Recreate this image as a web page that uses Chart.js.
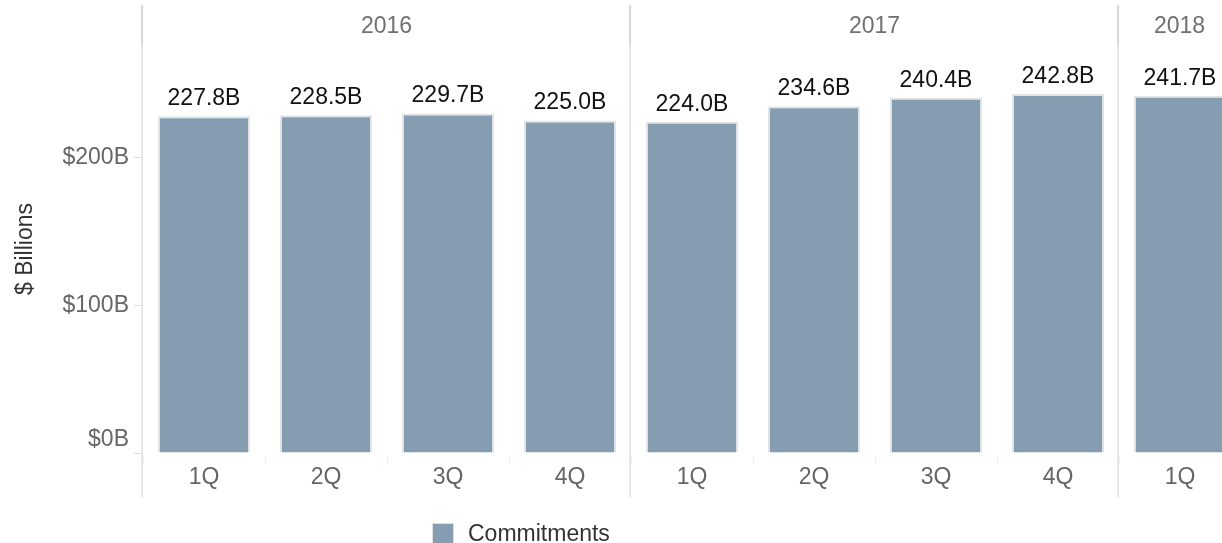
<!DOCTYPE html>
<html>
<head>
<meta charset="utf-8">
<title>Commitments</title>
<style>
  html, body { margin: 0; padding: 0; overflow: hidden; background: #fff; }
  #wrap { position: relative; width: 1222px; height: 543px; overflow: hidden; }
  #chart { position: absolute; left: 0; top: 0; }
  #legend {
    position: absolute; left: 432px; top: 520px;
    font: 23px "Liberation Sans", Arial, sans-serif; color: #333;
    display: flex; align-items: center;
  }
  #legend .sw { width: 22px; height: 22px; box-sizing: border-box; border: 1px solid #dde1e5; margin-right: 14px; }
</style>
</head>
<body>
<div id="wrap">
  <canvas id="chart" width="1245" height="543"></canvas>
  <div id="legend"></div>
</div>
<script src="https://cdn.jsdelivr.net/npm/chart.js@4.4.1/dist/chart.umd.min.js"></script>
<script>
const quarters = ['1Q', '2Q', '3Q', '4Q', '1Q', '2Q', '3Q', '4Q', '1Q'];
const years = ['2016', '2016', '2016', '2016', '2017', '2017', '2017', '2017', '2018'];
const commitments = [227.8, 228.5, 229.7, 225.0, 224.0, 234.6, 240.4, 242.8, 241.7];
const yTicks = [0, 100, 200];

const barColor = '#869cb0';
const grey = '#666666';

Chart.defaults.font.family = '"Liberation Sans", Arial, sans-serif';
Chart.defaults.font.size = 23;
Chart.defaults.color = grey;

// year headers and separators between year groups
const yearGroups = {
  id: 'yearGroups',
  afterDraw(chart) {
    const x = chart.scales.x;
    const ctx = chart.ctx;
    const area = chart.chartArea;
    const half = (x.getPixelForValue(1) - x.getPixelForValue(0)) / 2;
    let start = 0;
    ctx.save();
    for (let i = 1; i <= years.length; i++) {
      if (i === years.length || years[i] !== years[start]) {
        const left = Math.round(x.getPixelForValue(start) - half) - 1;
        const right = x.getPixelForValue(i - 1) + half;
        ctx.lineWidth = 1.5;
        ctx.strokeStyle = '#cbcbcb';
        ctx.beginPath();
        ctx.moveTo(left, 5);
        ctx.lineTo(left, area.top);
        ctx.stroke();
        ctx.strokeStyle = '#dedede';
        ctx.beginPath();
        ctx.moveTo(left, area.top);
        ctx.lineTo(left, area.bottom + 44);
        ctx.stroke();
        ctx.fillStyle = '#707070';
        ctx.font = '23px "Liberation Sans", Arial, sans-serif';
        ctx.textAlign = 'center';
        ctx.textBaseline = 'alphabetic';
        ctx.fillText(years[start], (left + right) / 2, 33);
        start = i;
      }
    }
    ctx.restore();
  }
};

// value labels above the bars
const barLabels = {
  id: 'barLabels',
  afterDatasetsDraw(chart) {
    const ctx = chart.ctx;
    const meta = chart.getDatasetMeta(0);
    ctx.save();
    ctx.fillStyle = '#111';
    ctx.font = '23px "Liberation Sans", Arial, sans-serif';
    ctx.textAlign = 'center';
    ctx.textBaseline = 'alphabetic';
    meta.data.forEach((bar, i) => {
      ctx.fillText(commitments[i].toFixed(1) + 'B', bar.x, bar.y - 11);
    });
    ctx.restore();
  }
};

const chart = new Chart(document.getElementById('chart'), {
  type: 'bar',
  data: {
    labels: quarters,
    datasets: [{
      label: 'Commitments',
      data: commitments,
      backgroundColor: barColor,
      borderColor: '#e2e5e8',
      borderWidth: 2,
      categoryPercentage: 1,
      barPercentage: 0.755
    }]
  },
  options: {
    responsive: false,
    animation: false,
    layout: { padding: { top: 45, right: 4, left: 0, bottom: 0 } },
    plugins: {
      legend: { display: false },
      tooltip: { enabled: false }
    },
    scales: {
      x: {
        offset: true,
        border: { display: false },
        grid: {
          offset: true,
          drawOnChartArea: false,
          color: '#eeeeee',
          tickLength: 11,
          tickBorderDash: [0, 4, 7, 100]
        },
        ticks: { color: grey, padding: 0 },
        afterFit(scale) { scale.height = 90; }
      },
      y: {
        min: 0,
        max: 276,
        border: { display: false },
        grid: { drawOnChartArea: false, color: '#dddddd', tickLength: 9 },
        afterBuildTicks(scale) { scale.ticks = yTicks.map(v => ({ value: v })); },
        ticks: {
          color: grey,
          padding: 5,
          // the bottom label sits above its tick, as in the original
          callback: v => v === 0 ? ['$' + v + 'B', ''] : '$' + v + 'B'
        },
        title: {
          display: true,
          text: '$ Billions',
          color: '#333',
          padding: { top: 12, bottom: 0 }
        },
        afterFit(scale) { scale.width = 143; }
      }
    }
  },
  plugins: [yearGroups, barLabels]
});

// html legend built from the dataset
const legend = document.getElementById('legend');
chart.data.datasets.forEach(ds => {
  const sw = document.createElement('span');
  sw.className = 'sw';
  sw.style.background = ds.backgroundColor;
  const txt = document.createElement('span');
  txt.textContent = ds.label;
  legend.appendChild(sw);
  legend.appendChild(txt);
});
</script>
</body>
</html>
